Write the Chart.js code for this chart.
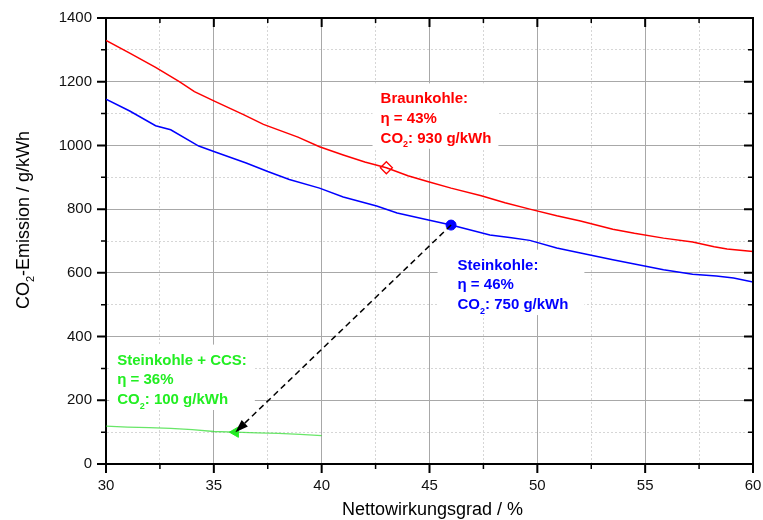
<!DOCTYPE html>
<html>
<head>
<meta charset="utf-8">
<script src="https://cdn.jsdelivr.net/npm/chart.js@4"></script>
<style>
  html, body { margin: 0; padding: 0; background: #fff; }
  #wrap { width: 763px; height: 520px; }
</style>
</head>
<body>
<div id="wrap"><canvas id="myChart"></canvas></div>
<script>
// values
const xRed = [30, 31.1, 32.3, 33.4, 34.1, 35, 36.4, 37.3, 38.9, 39.9, 41, 42, 43, 44, 44.95, 46, 47.4, 48.5, 49.65, 50.9, 52, 53.5, 54.5, 55.85, 57.2, 58.2, 58.8, 60];
const yRed = [1330, 1290, 1245, 1200, 1169, 1140, 1096, 1066, 1026, 996, 970, 948, 930, 905, 886, 866, 842, 820, 800, 779, 763, 737, 724, 709, 697, 682, 675, 667];

const xBlue = [30, 31.1, 32.3, 33, 34.3, 35, 36.5, 37.5, 38.5, 39.9, 41, 42.55, 43.5, 44.95, 46, 47.8, 48.8, 49.65, 50.9, 52, 53.5, 54.5, 55.85, 57.2, 58.3, 59.1, 60];
const yBlue = [1145, 1108, 1062, 1049, 998, 981, 945, 918, 893, 866, 838, 810, 788, 766, 750, 719, 710, 702, 678, 662, 641, 628, 610, 596, 590, 584, 571];

const xGreen = [30, 31, 32, 33, 34, 35, 36, 37, 38, 39, 40];
const yGreen = [119, 116, 114, 112, 108, 102, 100, 98, 96, 93, 89];

// marked points: Braunkohle, Steinkohle, Steinkohle + CCS
const markX = [43, 46, 36];
const markY = [930, 750, 100];

const xTickLabels = [30, 35, 40, 45, 50, 55, 60];
const yTickLabels = [0, 200, 400, 600, 800, 1000, 1200, 1400];

const FONT = "Arial, 'Liberation Sans', sans-serif";

function pts(xs, ys) {
    return xs.map((x, i) => ({ x: x, y: ys[i] }));
}

// text with a subscript part: parts = [[text, isSub], ...]
function drawRich(ctx, parts, x, y, size, bold) {
    let cx = x;
    parts.forEach(p => {
        let s = p[1] ? Math.round(size * 0.62) : size;
        ctx.font = (bold ? 'bold ' : '') + s + 'px ' + FONT;
        ctx.fillText(p[0], cx, p[1] ? y + size * 0.3 : y);
        cx += ctx.measureText(p[0]).width;
    });
    return cx - x;
}

function richWidth(ctx, parts, size, bold) {
    let w = 0;
    parts.forEach(p => {
        let s = p[1] ? Math.round(size * 0.62) : size;
        ctx.font = (bold ? 'bold ' : '') + s + 'px ' + FONT;
        w += ctx.measureText(p[0]).width;
    });
    return w;
}

const notes = [
    { x: 42.73, y: 1132, color: '#ff0000', padL: 8, padR: 7,
      lines: [[['Braunkohle:']], [['\u03b7 = 43%']], [['CO'], ['2', true], [': 930 g/kWh']]] },
    { x: 46.3, y: 610, color: '#0000ff', padL: 20, padR: 16,
      lines: [[['Steinkohle:']], [['\u03b7 = 46%']], [['CO'], ['2', true], [': 750 g/kWh']]] },
    { x: 30.52, y: 312, color: '#22ee22', padL: 8, padR: 8,
      lines: [[['Steinkohle + CCS:']], [['\u03b7 = 36%']], [['CO'], ['2', true], [': 100 g/kWh']]] }
];
const LINE_GAP = 19.7;
const NOTE_SIZE = 15;

const notesPlugin = {
    id: 'notes',
    beforeDatasetsDraw(chart) {
        const ctx = chart.ctx;
        const sx = chart.scales.x, sy = chart.scales.y;
        ctx.save();
        ctx.fillStyle = '#fff';
        notes.forEach(n => {
            const px = sx.getPixelForValue(n.x);
            const py = sy.getPixelForValue(n.y);
            let w = 0;
            n.lines.forEach(l => { w = Math.max(w, richWidth(ctx, l, NOTE_SIZE, true)); });
            ctx.fillRect(px - n.padL, py - 20, w + n.padL + n.padR, LINE_GAP * 2 + 26);
        });
        ctx.restore();
    },
    afterDatasetsDraw(chart) {
        const ctx = chart.ctx;
        const sx = chart.scales.x, sy = chart.scales.y;
        ctx.save();
        ctx.textBaseline = 'alphabetic';
        ctx.textAlign = 'left';
        notes.forEach(n => {
            const px = sx.getPixelForValue(n.x);
            const py = sy.getPixelForValue(n.y);
            ctx.fillStyle = n.color;
            n.lines.forEach((l, i) => drawRich(ctx, l, px, py + i * LINE_GAP, NOTE_SIZE, true));
        });

        // dashed arrow from Steinkohle point to CCS point
        const x0 = sx.getPixelForValue(markX[1]), y0 = sy.getPixelForValue(markY[1]);
        const x1 = sx.getPixelForValue(markX[2]), y1 = sy.getPixelForValue(markY[2]);
        const a = Math.atan2(y1 - y0, x1 - x0);
        const headL = 13, headW = 4.5;
        ctx.strokeStyle = '#000';
        ctx.lineWidth = 1.5;
        ctx.setLineDash([6, 4]);
        ctx.beginPath();
        ctx.moveTo(x0, y0);
        ctx.lineTo(x1 - Math.cos(a) * headL, y1 - Math.sin(a) * headL);
        ctx.stroke();
        ctx.setLineDash([]);
        ctx.fillStyle = '#000';
        ctx.beginPath();
        ctx.moveTo(x1, y1);
        ctx.lineTo(x1 - Math.cos(a) * headL - Math.sin(a) * headW, y1 - Math.sin(a) * headL + Math.cos(a) * headW);
        ctx.lineTo(x1 - Math.cos(a) * headL + Math.sin(a) * headW, y1 - Math.sin(a) * headL - Math.cos(a) * headW);
        ctx.closePath();
        ctx.fill();
        ctx.restore();
    },
    afterDraw(chart) {
        const ctx = chart.ctx;
        const area = chart.chartArea;
        const sx = chart.scales.x, sy = chart.scales.y;
        ctx.save();
        // frame top/right
        ctx.strokeStyle = '#000';
        ctx.lineWidth = 2;
        ctx.beginPath();
        ctx.moveTo(area.left, area.top);
        ctx.lineTo(area.right, area.top);
        ctx.lineTo(area.right, area.bottom);
        ctx.stroke();

        // tick marks: outside on bottom/left, inside on top/right
        sx.ticks.forEach(t => {
            const p = sx.getPixelForValue(t.value);
            const major = xTickLabels.includes(t.value);
            const len = major ? 9 : 5;
            ctx.lineWidth = major ? 2 : 1.5;
            ctx.beginPath();
            ctx.moveTo(p, area.bottom); ctx.lineTo(p, area.bottom + len);
            ctx.moveTo(p, area.top); ctx.lineTo(p, area.top + len);
            ctx.stroke();
        });
        sy.ticks.forEach(t => {
            const p = sy.getPixelForValue(t.value);
            const major = yTickLabels.includes(t.value);
            const len = major ? 9 : 5;
            ctx.lineWidth = major ? 2 : 1.5;
            ctx.beginPath();
            ctx.moveTo(area.left, p); ctx.lineTo(area.left - len, p);
            ctx.moveTo(area.right, p); ctx.lineTo(area.right - len, p);
            ctx.stroke();
        });

        // axis titles
        ctx.fillStyle = '#000';
        ctx.textBaseline = 'alphabetic';
        ctx.font = '18px ' + FONT;
        ctx.textAlign = 'center';
        ctx.fillText('Nettowirkungsgrad / %', (area.left + area.right) / 2 + 3, 515);
        ctx.textAlign = 'left';
        const yTitle = [['CO'], ['2', true], ['-Emission / g/kWh']];
        const w = richWidth(ctx, yTitle, 18, false);
        ctx.translate(29, 220);
        ctx.rotate(-Math.PI / 2);
        drawRich(ctx, yTitle, -w / 2, 0, 18, false);
        ctx.restore();
    }
};

const ctx = document.getElementById('myChart');

new Chart(ctx, {
    type: 'line',
    data: {
        datasets: [
            { data: pts(xRed, yRed), borderColor: '#ff0000', borderWidth: 1.5, pointRadius: 0, tension: 0 },
            { data: pts(xBlue, yBlue), borderColor: '#0000ff', borderWidth: 1.5, pointRadius: 0, tension: 0 },
            { data: pts(xGreen, yGreen), borderColor: 'rgba(40,220,40,0.7)', borderWidth: 1.3, pointRadius: 0, tension: 0 },
            { data: [{ x: markX[0], y: markY[0] }], showLine: false, pointStyle: 'rectRot', pointRadius: 6,
              backgroundColor: '#fff', borderColor: '#ff0000', borderWidth: 1.3 },
            { data: [{ x: markX[1], y: markY[1] }], showLine: false, pointStyle: 'circle', pointRadius: 5,
              backgroundColor: '#0000ff', borderColor: '#0000ff', borderWidth: 1 },
            { data: [{ x: markX[2], y: markY[2] }], showLine: false, pointStyle: 'triangle', pointRotation: -90,
              pointRadius: 6, backgroundColor: '#22ee22', borderColor: '#22ee22', borderWidth: 1 }
        ]
    },
    options: {
        responsive: true,
        maintainAspectRatio: false,
        animation: false,
        layout: { padding: { left: 0, right: 10, top: 18, bottom: 0 } },
        plugins: { legend: { display: false }, tooltip: { enabled: false } },
        scales: {
            x: {
                type: 'linear',
                min: 30, max: 60,
                afterFit: s => { s.height = 56; s.paddingLeft = 0; s.paddingRight = 0; },
                border: { color: '#000', width: 2,
                          dash: c => (c.tick && !xTickLabels.includes(c.tick.value)) ? [2, 2] : [] },
                grid: {
                    drawTicks: false,
                    color: c => (c.tick && xTickLabels.includes(c.tick.value)) ? '#a8a8a8' : '#d6d6d6'
                },
                ticks: {
                    stepSize: 2.5,
                    autoSkip: false,
                    maxRotation: 0,
                    padding: 13,
                    color: '#111',
                    font: { family: FONT, size: 15 },
                    callback: v => xTickLabels.includes(v) ? v : ''
                }
            },
            y: {
                min: 0, max: 1400,
                afterFit: s => { s.width = 106; s.paddingTop = 0; s.paddingBottom = 0; },
                border: { color: '#000', width: 2,
                          dash: c => (c.tick && !yTickLabels.includes(c.tick.value)) ? [2, 2] : [] },
                grid: {
                    drawTicks: false,
                    color: c => (c.tick && yTickLabels.includes(c.tick.value)) ? '#a8a8a8' : '#d6d6d6'
                },
                ticks: {
                    stepSize: 100,
                    autoSkip: false,
                    padding: 14,
                    color: '#111',
                    font: { family: FONT, size: 15 },
                    callback: v => yTickLabels.includes(v) ? v : ''
                }
            }
        }
    },
    plugins: [notesPlugin]
});
</script>
</body>
</html>
